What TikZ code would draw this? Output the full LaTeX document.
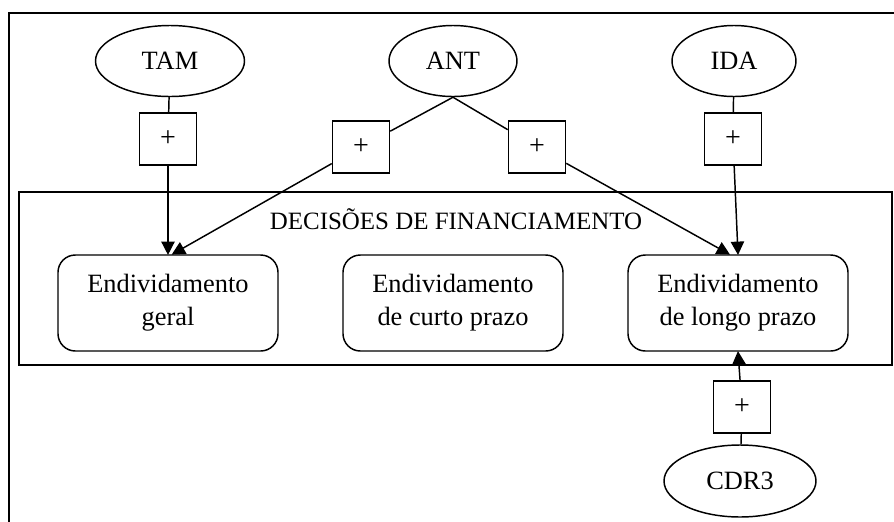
\documentclass[tikz,border=0pt]{standalone}
\usepackage{fontspec}
\setmainfont{Liberation Serif}
\usetikzlibrary{shapes.geometric,arrows.meta}

\tikzset{
  varnode/.style={draw, ellipse, line width=1.1pt, inner sep=0pt, font=\fontsize{19.8}{24}\selectfont},
  signbox/.style={draw, rectangle, line width=1.1pt, inner sep=0pt, minimum width=42.75pt, minimum height=39pt, font=\fontsize{21}{24}\selectfont},
  debtbox/.style={draw, rectangle, rounded corners=13pt, line width=1.1pt, minimum width=165pt, minimum height=72pt, align=center, font=\fontsize{19.8}{24.75}\selectfont},
  link/.style={line width=1.1pt},
  effect/.style={line width=1.1pt, -{Triangle[length=10pt,width=10pt]}, shorten >=-0.5pt}
}

\begin{document}
\begin{tikzpicture}[x=0.75pt,y=0.75pt,yscale=-1,xscale=1]
			\useasboundingbox (0,0) rectangle (894,522);
			
			%Outer frame (cut at the right and bottom)
			\draw [line width=1.4pt] (9,522) -- (9,13) -- (894,13) ;
			%Shape: Rectangle [decisions]
			\draw [line width=1.2pt] (19,192) rectangle (892,365) ;
			% Text Node
			\node [font=\fontsize{18.7}{22}\selectfont] (title) at (456,219) {DECISÕES DE FINANCIAMENTO};
			
			%Shape: Ellipse [variables]
			\node [varnode, minimum width=111.75pt, minimum height=53.25pt] (tam) at (170,61) {TAM};
			\node [varnode, minimum width=96pt, minimum height=53.25pt] (ant) at (453,61) {ANT};
			\node [varnode, minimum width=93pt, minimum height=53.25pt] (ida) at (734,61) {IDA};
			\node [varnode, minimum width=114pt, minimum height=54pt] (cdr) at (740,481) {CDR3};
			
			%Shape: Square [signs]
			\node [signbox] (s1) at (168,139) {+};
			\node [signbox] (s2) at (361,147) {+};
			\node [signbox] (s3) at (537,147) {+};
			\node [signbox] (s4) at (733,139) {+};
			\node [signbox] (s5) at (742,407) {+};
			
			%Shape: Rounded Rectangle [debt]
			\node [debtbox] (geral) at (168,303) {Endividamento\\geral};
			\node [debtbox] (curto) at (453,303) {Endividamento\\de curto prazo};
			\node [debtbox] (longo) at (738,303) {Endividamento\\de longo prazo};
			
			%Straight Lines
			\draw [link] (tam) -- (s1) ;
			\draw [effect] (s1) -- (geral.north) ;
			\draw [link] (ant.south) -- (s2) ;
			\draw [effect] (s2) -- (geral.85) ;
			\draw [link] (ant.south) -- (s3) ;
			\draw [effect] (s3) -- (longo.100) ;
			\draw [link] (ida) -- (s4) ;
			\draw [effect] (s4) -- (longo.north) ;
			\draw [link] (cdr) -- (s5) ;
			\draw [effect] (s5) -- (longo.south) ;
			
		\end{tikzpicture}
\end{document}
